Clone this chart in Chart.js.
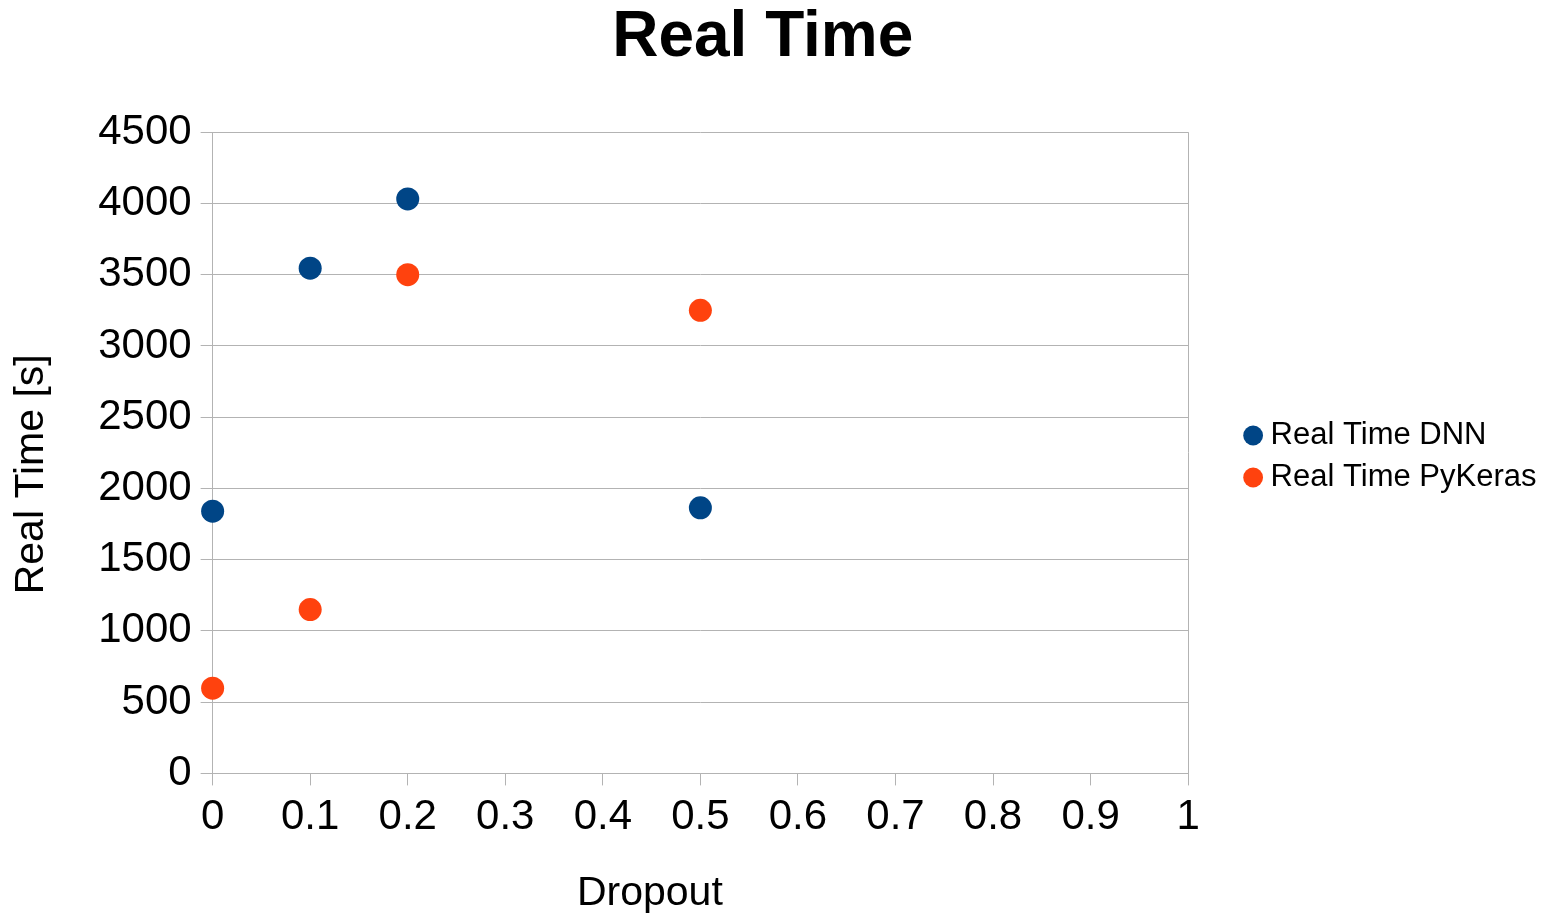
<!DOCTYPE html>
<html>
<head>
<meta charset="utf-8">
<script src="https://cdn.jsdelivr.net/npm/chart.js@4"></script>
<style>
html,body{margin:0;padding:0;background:#fff;}
#wrap{width:1552px;height:917px;}
</style>
</head>
<body>
<div id="wrap"><canvas id="c" width="1552" height="917"></canvas></div>
<script>
const dropout = [0, 0.1, 0.2, 0.5];
const dnnTimes = [1840, 3546, 4032, 1864];
const pykerasTimes = [598, 1150, 3500, 3250];
const seriesNames = ['Real Time DNN', 'Real Time PyKeras'];
const xTicks = [0, 0.1, 0.2, 0.3, 0.4, 0.5, 0.6, 0.7, 0.8, 0.9, 1];
const yTicks = [0, 500, 1000, 1500, 2000, 2500, 3000, 3500, 4000, 4500];

const toPts = (xs, ys) => xs.map((x, i) => ({x: x, y: ys[i]}));
const FONT = "'Liberation Sans', Arial, sans-serif";
const GRID = '#b3b3b3';

// wrap a drawing method so it is rendered with a fixed offset
function shift(obj, method, dx, dy) {
  if (!obj || obj['_sh_' + method]) return;
  const orig = obj[method];
  obj[method] = function () {
    const ctx = this.ctx;
    ctx.save();
    ctx.translate(dx, dy);
    const r = orig.apply(this, arguments);
    ctx.restore();
    return r;
  };
  obj['_sh_' + method] = true;
}

const offsetPlugin = {
  id: 'offsets',
  beforeDraw(chart) {
    shift(chart.titleBlock, 'draw', 12, 5);
    shift(chart.legend, 'draw', 52, -0.5);
  }
};

new Chart(document.getElementById('c'), {
  type: 'scatter',
  data: {
    datasets: [
      {label: seriesNames[0], data: toPts(dropout, dnnTimes), backgroundColor: '#004586', borderWidth: 0, pointRadius: 11.5, pointHoverRadius: 11.5, clip: false},
      {label: seriesNames[1], data: toPts(dropout, pykerasTimes), backgroundColor: '#ff420e', borderWidth: 0, pointRadius: 11.5, pointHoverRadius: 11.5, clip: false}
    ]
  },
  plugins: [offsetPlugin],
  options: {
    responsive: false,
    animation: false,
    devicePixelRatio: 1,
    layout: {padding: {left: 7, right: 57.5, top: 0, bottom: 3}},
    plugins: {
      title: {display: true, text: 'Real Time', color: '#000', font: {family: FONT, size: 64, weight: 'bold', lineHeight: 1.05}, padding: {top: 0, bottom: 65}},
      legend: {
        position: 'right',
        labels: {usePointStyle: true, pointStyle: 'circle', boxWidth: 4, boxHeight: 14, color: '#000', padding: 11, font: {family: FONT, size: 31}}
      },
      tooltip: {enabled: false}
    },
    scales: {
      x: {
        type: 'linear', min: 0, max: 1,
        afterBuildTicks: (s) => { s.ticks = xTicks.map(v => ({value: v})); },
        afterUpdate: (s) => shift(s, 'drawTitle', -50.5, 4),
        ticks: {color: '#000', font: {family: FONT, size: 42}, padding: 7, callback: v => String(v)},
        grid: {color: (c) => (c.tick && c.tick.value === 1) ? GRID : 'rgba(0,0,0,0)', tickColor: GRID, tickLength: 12, lineWidth: 1},
        border: {display: true, color: GRID},
        title: {display: true, text: 'Dropout', color: '#000', font: {family: FONT, size: 41}, padding: {top: 15, bottom: 0}}
      },
      y: {
        type: 'linear', min: 0, max: 4500,
        afterBuildTicks: (s) => { s.ticks = yTicks.map(v => ({value: v})); },
        afterUpdate: (s) => shift(s, 'drawTitle', 0, 21.5),
        ticks: {color: '#000', font: {family: FONT, size: 42}, padding: 9, callback: v => String(v)},
        grid: {color: GRID, tickColor: GRID, tickLength: 12, lineWidth: 1},
        border: {display: true, color: GRID},
        title: {display: true, text: 'Real Time [s]', color: '#000', font: {family: FONT, size: 41}, padding: {top: 0, bottom: 33}}
      }
    }
  }
});
</script>
</body>
</html>
